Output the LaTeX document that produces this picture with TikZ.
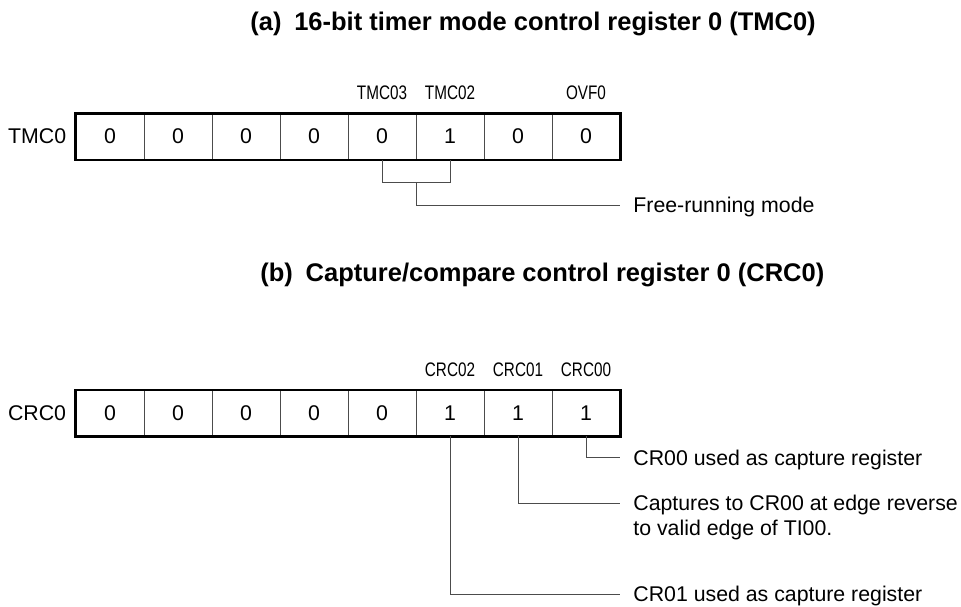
\documentclass[tikz,border=0pt]{standalone}
\usepackage{fontspec}
\setmainfont{Liberation Sans}
\newfontfamily\narrowsf[FakeStretch=0.78]{Liberation Sans}
\usetikzlibrary{positioning,calc}

\tikzset{
  bitcell/.style={draw=black!70,line width=0.5pt,minimum width=34pt,minimum height=22.75pt,
    inner sep=0pt,font=\fontsize{10.65}{12.5}\selectfont},
  bitname/.style={inner sep=0pt,font=\narrowsf\fontsize{9.8}{11}\selectfont},
  regname/.style={inner sep=0pt,font=\fontsize{10.65}{12.5}\selectfont},
  remark/.style={anchor=base west,inner xsep=6.5pt,inner ysep=0pt,font=\fontsize{10.65}{12.5}\selectfont},
  headline/.style={anchor=west,inner sep=0pt,font=\bfseries\fontsize{12.75}{15}\selectfont},
  regframe/.style={line width=1.25pt},
  leader/.style={draw=black!70,line width=0.5pt}
}

\begin{document}
\begin{tikzpicture}[x=0.5pt,y=-0.5pt]
  \useasboundingbox (0,0) rectangle (961,606);
  % (a) TMC0
  \node[headline] (ta) at (250,24) {(a)\enspace 16-bit timer mode control register 0 (TMC0)};
  \foreach \i/\v in {1/0,2/0,3/0,4/0,5/0,6/1,7/0,8/0}{
    \node[bitcell] (a\i) at ({76+68*(\i-0.5)},136.5) {\v};}
  \draw[regframe] (a1.north west) rectangle (a8.south east);
  \node[regname,left=4.5pt of a1] (ra) {TMC0};
  \foreach \i/\n in {5/TMC03,6/TMC02,8/OVF0}{
    \node[bitname] (na\i) at ({76+68*(\i-0.5)},93) {\n};}
  \node[remark] (fr) at (620,212.6) {Free-running mode};
  \draw[leader] (a5.south) -- ++(0,23) -| (a6.south);
  \draw[leader] (a5.south east) ++(0,23) |- ([yshift=3.8pt]fr.base west);
  % (b) CRC0
  \node[headline] (tb) at (260,275) {(b)\enspace Capture/compare control register 0 (CRC0)};
  \foreach \i/\v in {1/0,2/0,3/0,4/0,5/0,6/1,7/1,8/1}{
    \node[bitcell] (b\i) at ({76+68*(\i-0.5)},413) {\v};}
  \draw[regframe] (b1.north west) rectangle (b8.south east);
  \node[regname,left=4.5pt of b1] (rb) {CRC0};
  \foreach \i/\n in {6/CRC02,7/CRC01,8/CRC00}{
    \node[bitname] (nb\i) at ({76+68*(\i-0.5)},370) {\n};}
  \node[remark] (n8) at (620,465.3) {CR00 used as capture register};
  \node[remark] (n7) at (620,510.9) {\begin{tabular}[t]{@{}l@{}}Captures to CR00 at edge reverse\\to valid edge of TI00.\end{tabular}};
  \node[remark] (n6) at (620,601.6) {CR01 used as capture register};
  \foreach \i in {6,7,8}{
    \draw[leader] (b\i.south) |- ([yshift=3.8pt]n\i.base west);}
\end{tikzpicture}
\end{document}
